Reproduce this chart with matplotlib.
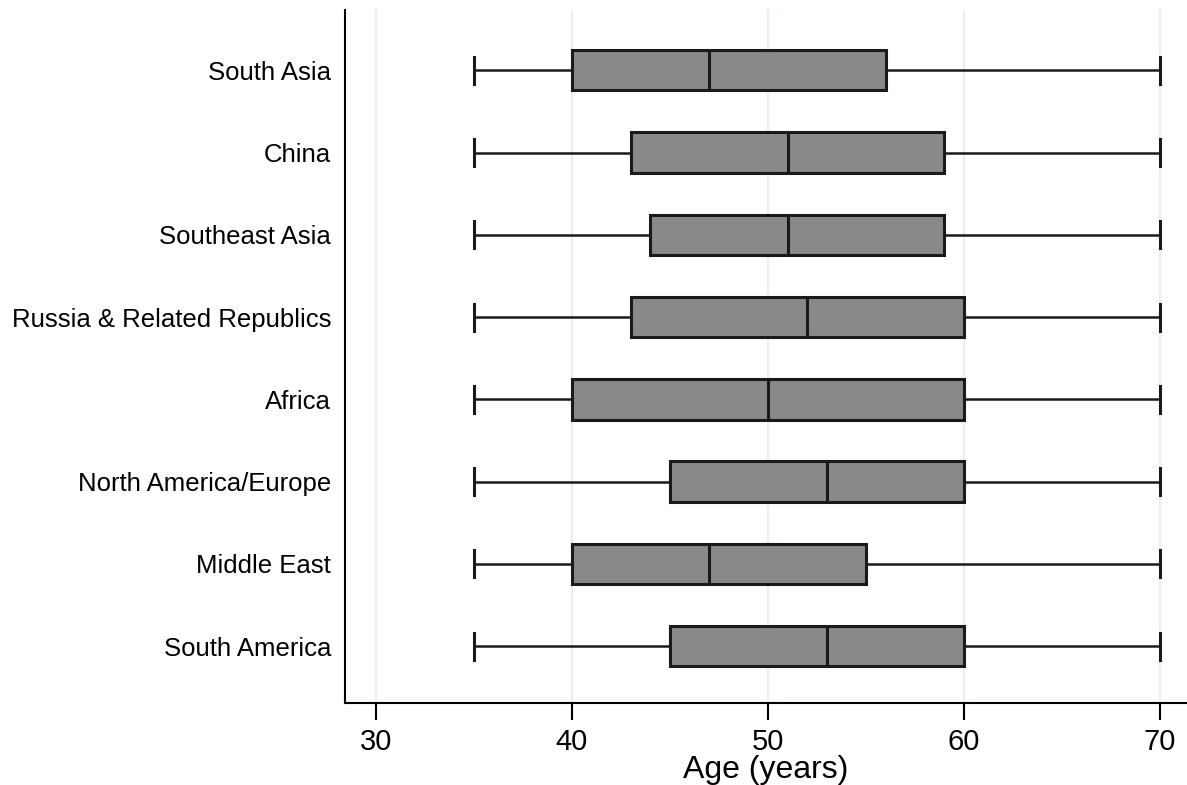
import matplotlib
matplotlib.use("Agg")
import matplotlib.pyplot as plt

plt.rcParams["font.family"] = ["Liberation Sans", "DejaVu Sans"]

regions = ["South Asia", "China", "Southeast Asia", "Russia & Related Republics",
           "Africa", "North America/Europe", "Middle East", "South America"]
whislo = [35, 35, 35, 35, 35, 35, 35, 35]
q1 = [40, 43, 44, 43, 40, 45, 40, 45]
med = [47, 51, 51, 52, 50, 53, 47, 53]
q3 = [56, 59, 59, 60, 60, 60, 55, 60]
whishi = [70, 70, 70, 70, 70, 70, 70, 70]

stats = []
for i, name in enumerate(regions):
    stats.append(dict(label=name, whislo=whislo[i], q1=q1[i], med=med[i],
                      q3=q3[i], whishi=whishi[i], fliers=[]))

fig = plt.figure(figsize=(11.87, 7.85), dpi=100)
ax = fig.add_axes([0.2906, 0.1045, 0.7094, 0.8825])

n = len(regions)
positions = list(range(n, 0, -1))
ax.bxp(stats, positions=positions, vert=False, widths=0.49, capwidths=0.33,
       patch_artist=True, showfliers=False,
       boxprops=dict(facecolor="#898989", edgecolor="#1a1a1a", linewidth=2.2),
       medianprops=dict(color="#1a1a1a", linewidth=2.2),
       whiskerprops=dict(color="#1a1a1a", linewidth=1.8),
       capprops=dict(color="#1a1a1a", linewidth=2.2))

ax.set_xlim(28.42, 71.38)
ax.set_ylim(0.31, 8.73)
ax.set_xticks([30, 40, 50, 60, 70])
for x in [30, 40, 50, 60, 70]:
    ax.axvline(x, color="#e6eff2", linewidth=1.5, zorder=0)

ax.spines["top"].set_visible(False)
ax.spines["right"].set_visible(False)
ax.spines["left"].set_linewidth(1.5)
ax.spines["bottom"].set_linewidth(1.5)

ax.tick_params(axis="x", length=12, width=1.5, labelsize=21, pad=6)
ax.tick_params(axis="y", length=0, labelsize=18.5, pad=10)
ax.set_xlabel("Age (years)", fontsize=23, labelpad=-1)

fig.savefig("out.png", dpi=100)
